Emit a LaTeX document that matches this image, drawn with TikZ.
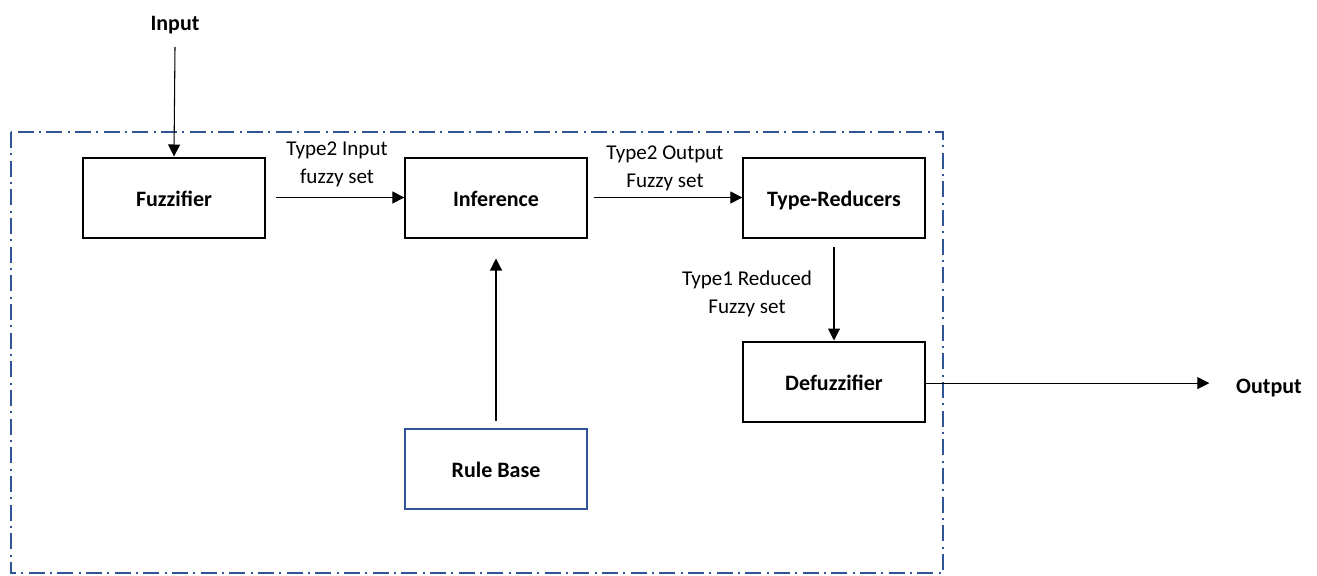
\documentclass[tikz,border=0pt]{standalone}
\usepackage{fontspec}
\setmainfont{Carlito}
\usetikzlibrary{arrows.meta}
\definecolor{frameblue}{HTML}{2F5597}
\tikzset{
  x=0.75pt, y=-0.75pt,
  block/.style={draw=black, line width=1.5pt, minimum width=136pt, minimum height=60pt,
    inner sep=0pt, text height=14pt, text depth=0pt, font=\fontsize{16.5}{19}\selectfont\bfseries},
  rulebox/.style={block, draw=frameblue, line width=1.5pt},
  flow/.style={line width=0.8pt, -{Triangle[length=9pt,width=9pt]}},
  lbl/.style={align=center, font=\fontsize{15.8}{21}\selectfont, inner sep=0pt},
  term/.style={font=\fontsize{16.5}{19}\selectfont\bfseries, inner sep=0pt},
  boundary/.style={draw=frameblue, line width=1.2pt, dash pattern=on 12pt off 4pt on 1.5pt off 4pt}
}
\begin{document}
\begin{tikzpicture}
\useasboundingbox (0,0) rectangle (1317,575);
% system boundary
\draw[boundary] (11,132) rectangle (943,573);

% processing blocks
\node[block] (fuzz) at (174,197.5) {Fuzzifier};
\node[block] (inf) at (496,197.5) {Inference};
\node[block] (tr) at (834,197.5) {Type-Reducers};
\node[block] (defuzz) at (834,381.5) {Defuzzifier};
\node[rulebox] (rb) at (496,468.5) {Rule Base};

% terminals
\node[term] (in) at (175,25) {Input};
\node[term] (out) at (1269,388) {Output};
\coordinate (inEnd) at (175,47);

% connectors
\draw[flow] (inEnd) -- (fuzz.north);
\draw[flow] ([xshift=7.5pt]fuzz.east) -- (inf.west);
\draw[flow] ([xshift=4.5pt]inf.east) -- (tr.west);
\draw[flow] ([yshift=-6pt]tr.south) -- (defuzz.north);
\draw[flow] ([yshift=5pt]rb.north) -- ([yshift=-15pt]inf.south);
\draw[flow] ([yshift=-1.2pt]defuzz.east) -- ([xshift=-20pt,yshift=-1.2pt]out.west |- defuzz.east);

% connector labels
\node[lbl] (l1) at (337,164) {Type2 Input\\fuzzy set};
\node[lbl] (l2) at (665,168) {Type2 Output\\Fuzzy set};
\node[lbl] (l3) at (747,294) {Type1 Reduced\\Fuzzy set};
\end{tikzpicture}
\end{document}
